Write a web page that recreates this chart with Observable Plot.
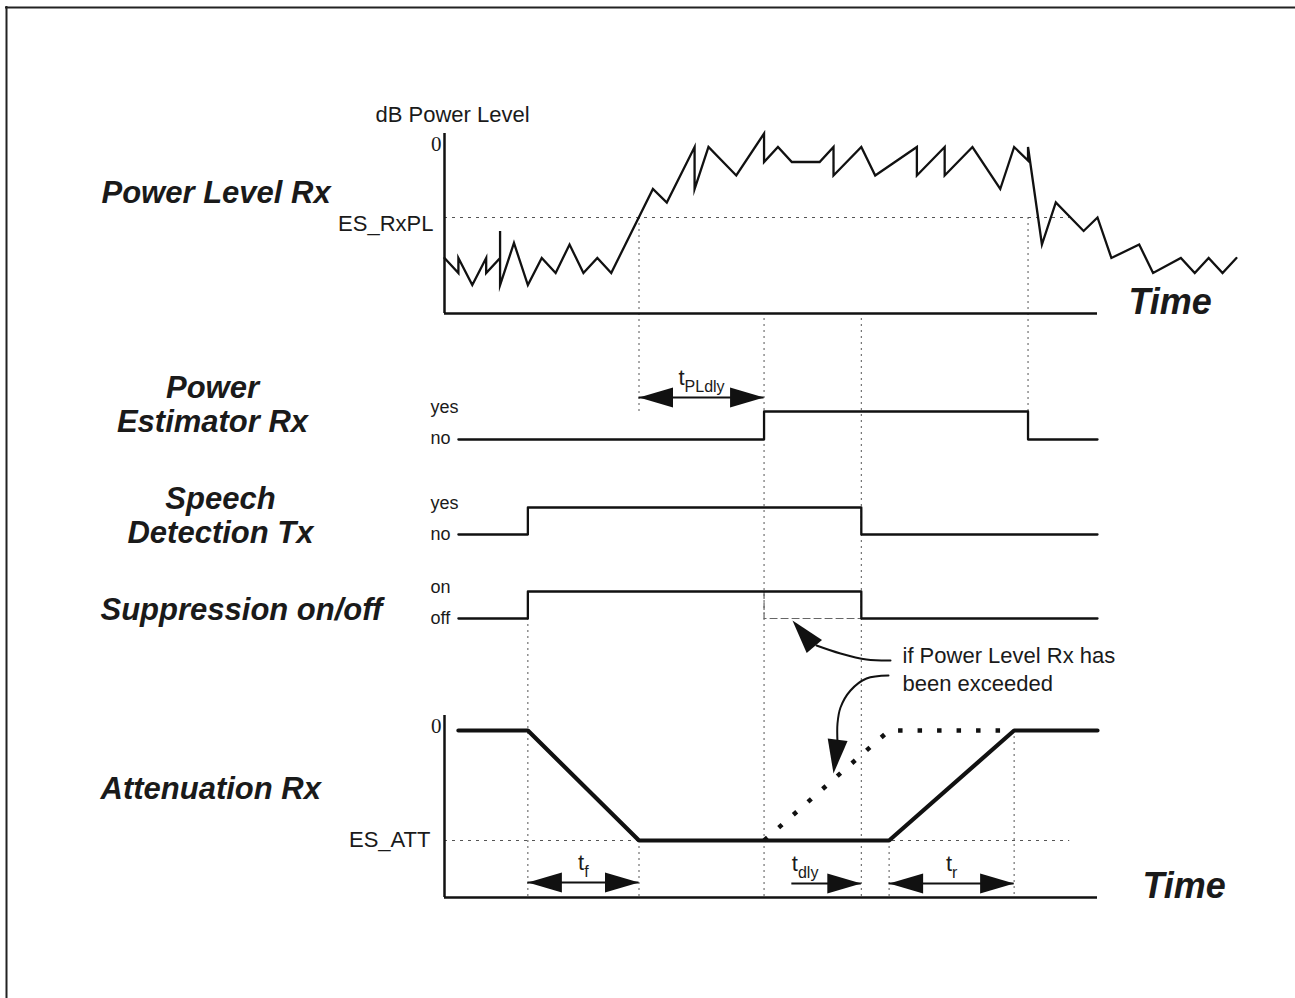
<!DOCTYPE html>
<html><head><meta charset="utf-8">
<script src="https://cdn.jsdelivr.net/npm/d3@7"></script>
<script src="https://cdn.jsdelivr.net/npm/@observablehq/plot@0.6"></script>
<style>
html,body{margin:0;padding:0;background:#fff;}
#chart svg{display:block;}
</style></head><body><div id="chart"></div>
<script>
// ================= DATA =================
// time is measured in sampling ticks; the time axes run from tick 0 to tick 47
const timeAxisEnd = 47;

// Power Level Rx (dB, 0 = top of scale)
const powerTime = [0,1,1,2,3,3,4,4,4,5,6,7,8,9,10,11,12,15,16,18,18,19,21,23,23,24,25,27,28,28,30,31,34,34,36,36,38,40,41,42,42,43,44,46,47,48,50,51,53,54,55,56,57];
const powerDb   = [-41.5,-46.5,-41.5,-50.5,-41.5,-46.5,-41.5,-32.5,-50.5,-36.5,-50.5,-41.5,-46.5,-37,-46.5,-41.5,-46.5,-18.5,-23,-4.5,-18.5,-4.5,-14,0,-9.5,-4.5,-9.5,-9.5,-4.5,-14,-4.5,-14,-4.5,-14,-4.5,-14,-4.5,-18.5,-4.5,-9,-4.5,-37,-23,-32.5,-28,-41.5,-37,-46.5,-41.5,-46.5,-41.5,-46.5,-41.5];
const powerFloorDb = -60;
const esRxPL = -28;          // ES_RxPL threshold (dB)

// binary signals (0 = no/off, 1 = yes/on)
const estimatorTime  = [1,23,23,42,42,47];
const estimatorState = [0,0,1,1,0,0];
const speechTime  = [1,6,6,30,30,47];
const speechState = [0,0,1,1,0,0];
const suppressionTime  = [1,6,6,30,30,47];
const suppressionState = [0,0,1,1,0,0];
const suppressionAltTime  = [23,23,30];   // dashed: if Power Level Rx exceeded
const suppressionAltState = [1,0,0];

// Attenuation Rx (0 = no attenuation, 1 = ES_ATT)
const attenuationTime  = [1,6,14,32,41,47];
const attenuationLevel = [0,0,1,1,0,0];
const attenuationAltTime  = [23,32,41];   // dotted: if Power Level Rx exceeded
const attenuationAltLevel = [1,0,0];
const esAtt = 1;

// timing intervals
const intervalName  = ["PLdly","f","dly","r"];
const intervalStart = [14,6,25,32];
const intervalEnd   = [23,14,30,41];
const intervalHeads = ["both","both","end","both"];

// state tick labels
const estimatorTicks   = ["no","yes"];
const speechTicks      = ["no","yes"];
const suppressionTicks = ["off","on"];

// ================= LAYOUT =================
const W = 1295, H = 998;
const AX0 = 444, AX1 = 1097;                 // pixel span of the time axes
const U = (AX1 - AX0) / timeAxisEnd;         // pixels per tick
const px = p => (p - AX0) / U;               // layout pixel -> tick (annotations only)
const pY = db => 133 - 3 * db;               // power panel
const sig = {estimator:[439,411], speech:[534,507], suppression:[618,591]};
const aY = a => 730 + 110 * a;               // attenuation panel
const attAxisTop = 715, attAxisBottom = 897;
const FONT = "Liberation Sans, Arial, Helvetica, sans-serif";
const guideColor = "#555";

const rows = (ts, vs, f) => ts.map((t, i) => ({t, y: f(vs[i])}));

const powerRows = rows(powerTime, powerDb, pY);
const estRows = rows(estimatorTime, estimatorState, s => sig.estimator[s]);
const spRows = rows(speechTime, speechState, s => sig.speech[s]);
const supRows = rows(suppressionTime, suppressionState, s => sig.suppression[s]);
const supAltRows = rows(suppressionAltTime, suppressionAltState, s => sig.suppression[s]);
const attRows = rows(attenuationTime, attenuationLevel, aY);
const attAltRows = rows(attenuationAltTime, attenuationAltLevel, aY);

// vertical guide lines at the events
const guides = [
  {t: speechTime[1], y1: sig.suppression[0], y2: attAxisBottom},
  {t: intervalStart[0], y1: pY(esRxPL), y2: sig.estimator[1]},
  {t: attenuationTime[2], y1: aY(esAtt), y2: attAxisBottom},
  {t: estimatorTime[1], y1: pY(powerFloorDb) + 5, y2: attAxisBottom},
  {t: speechTime[3], y1: pY(powerFloorDb) + 5, y2: attAxisBottom},
  {t: attenuationTime[3], y1: aY(esAtt), y2: attAxisBottom},
  {t: attenuationTime[4], y1: aY(0), y2: attAxisBottom},
  {t: estimatorTime[3], y1: pY(esRxPL), y2: sig.estimator[0]}
];

// timing arrows
const intervalY = [397, 882, 883, 883];
const shafts = intervalName.map((n, i) => ({x1: intervalStart[i], x2: intervalEnd[i], y: intervalY[i]}));
const heads = [];
intervalName.forEach((n, i) => {
  if (intervalHeads[i] === "both") heads.push({t: intervalStart[i], y: intervalY[i], r: 180});
  heads.push({t: intervalEnd[i], y: intervalY[i], r: 0});
});
const subW = {PLdly: 40, f: 4.5, dly: 20.5, r: 5.3};
const tW = 6.1;
const tLabels = intervalName.map((n, i) => {
  const mid = (intervalStart[i] + intervalEnd[i]) / 2;
  const offPx = intervalHeads[i] === "end" ? tW : (tW - subW[n]) / 2;
  const base = intervalHeads[i] === "end" ? intervalStart[i] : mid;
  return {t: base + offPx / U, y: intervalY[i], sub: n};
});

// curved annotation arrows
const curve1 = [[890,660],[866,659],[840,653],[816,645]].map(([x,y]) => ({t: px(x), y}));
const curve2 = [[888,675],[866,678],[850,690],[840,707],[837,723],[837,742]].map(([x,y]) => ({t: px(x), y}));
heads.push({t: px(792), y: 620, r: 230});
heads.push({t: px(833), y: 773, r: 97});

const arrowHead = {draw(ctx) { ctx.moveTo(0, 0); ctx.lineTo(-34, -10); ctx.lineTo(-34, 10); ctx.closePath(); }};

const bold = {fontFamily: FONT, fontWeight: "bold", fontStyle: "italic", fill: "#1a1a1a"};
const txt = (d, o) => Plot.text([d], {x: "x", y: "y", text: "s", fontFamily: FONT, fill: "#1a1a1a", lineAnchor: "bottom", ...o});

const chart = Plot.plot({
  width: W, height: H,
  marginTop: 0, marginRight: 0, marginBottom: 0, marginLeft: 0,
  x: {domain: [px(0), px(W)], range: [0, W], axis: null},
  y: {domain: [0, H], range: [0, H], axis: null},
  style: {fontFamily: FONT, background: "#fff", overflow: "visible"},
  marks: [
    // frame
    Plot.ruleY([7], {x1: px(5), x2: px(W), stroke: "#222", strokeWidth: 2}),
    Plot.ruleX([px(6)], {y1: 6, y2: H, stroke: "#222", strokeWidth: 2}),

    // threshold lines
    Plot.ruleY([pY(esRxPL)], {x1: 0, x2: 45, stroke: guideColor, strokeWidth: 1, strokeDasharray: "3,5"}),
    Plot.ruleY([aY(esAtt)], {x1: 0, x2: 45, stroke: guideColor, strokeWidth: 1, strokeDasharray: "3,5"}),
    // event guides
    Plot.ruleX(guides, {x: "t", y1: "y1", y2: "y2", stroke: guideColor, strokeWidth: 1, strokeDasharray: "2,4"}),

    // axes
    Plot.ruleX([0], {y1: pY(0), y2: pY(powerFloorDb), stroke: "#111", strokeWidth: 2.5}),
    Plot.ruleY([pY(powerFloorDb)], {x1: 0, x2: timeAxisEnd, stroke: "#111", strokeWidth: 2.5}),
    Plot.ruleX([0], {y1: attAxisTop, y2: attAxisBottom, stroke: "#111", strokeWidth: 2.5}),
    Plot.ruleY([attAxisBottom], {x1: 0, x2: timeAxisEnd, stroke: "#111", strokeWidth: 2.5}),

    // signals
    Plot.line(powerRows, {x: "t", y: "y", stroke: "#111", strokeWidth: 2.3, strokeLinejoin: "miter", strokeMiterlimit: 10}),
    Plot.line(estRows, {x: "t", y: "y", stroke: "#111", strokeWidth: 2.3}),
    Plot.line(spRows, {x: "t", y: "y", stroke: "#111", strokeWidth: 2.3}),
    Plot.line(supAltRows, {x: "t", y: "y", stroke: "#666", strokeWidth: 1.2, strokeDasharray: "7,4"}),
    Plot.line(supRows, {x: "t", y: "y", stroke: "#111", strokeWidth: 2.3}),
    Plot.line(attAltRows, {x: "t", y: "y", stroke: "#111", strokeWidth: 4.5, strokeDasharray: "4.5,15", strokeLinecap: "butt"}),
    Plot.line(attRows, {x: "t", y: "y", stroke: "#111", strokeWidth: 4.2, strokeLinecap: "round", strokeLinejoin: "miter"}),

    // timing arrows
    Plot.ruleY(shafts, {x1: "x1", x2: "x2", y: "y", stroke: "#111", strokeWidth: 2}),
    Plot.line(curve1, {x: "t", y: "y", curve: "catmull-rom", stroke: "#111", strokeWidth: 2}),
    Plot.line(curve2, {x: "t", y: "y", curve: "catmull-rom", stroke: "#111", strokeWidth: 2}),
    Plot.dot(heads, {x: "t", y: "y", rotate: "r", symbol: arrowHead, fill: "#111", stroke: "none"}),
    Plot.text(tLabels, {x: "t", y: d => d.y - 13, text: () => "t", textAnchor: "end", lineAnchor: "bottom", fontSize: 22, fontFamily: FONT, fill: "#1a1a1a"}),
    Plot.text(tLabels, {x: "t", y: d => d.y - 6, text: "sub", textAnchor: "start", lineAnchor: "bottom", fontSize: 16, fontFamily: FONT, fill: "#1a1a1a"}),

    // big labels
    txt({x: px(101), y: 202, s: "Power Level Rx"}, {...bold, fontSize: 31, textAnchor: "start"}),
    txt({x: px(212), y: 431, s: "Power\nEstimator Rx"}, {...bold, fontSize: 31, textAnchor: "middle", lineHeight: 1.07}),
    txt({x: px(220), y: 542, s: "Speech\nDetection Tx"}, {...bold, fontSize: 31, textAnchor: "middle", lineHeight: 1.09}),
    txt({x: px(100), y: 619, s: "Suppression on/off"}, {...bold, fontSize: 31, textAnchor: "start"}),
    txt({x: px(100), y: 798, s: "Attenuation Rx"}, {...bold, fontSize: 31, textAnchor: "start"}),
    txt({x: px(1128), y: 313, s: "Time"}, {...bold, fontSize: 36, textAnchor: "start"}),
    txt({x: px(1142), y: 897, s: "Time"}, {...bold, fontSize: 36, textAnchor: "start"}),

    // small labels
    txt({x: px(375), y: 121, s: "dB Power Level"}, {fontSize: 22, textAnchor: "start"}),
    txt({x: px(441), y: 150, s: "0"}, {fontSize: 21, textAnchor: "end", fontFamily: "Liberation Serif, Times New Roman, serif"}),
    txt({x: px(441), y: 732, s: "0"}, {fontSize: 21, textAnchor: "end", fontFamily: "Liberation Serif, Times New Roman, serif"}),
    txt({x: px(433), y: pY(esRxPL) + 13, s: "ES_RxPL"}, {fontSize: 22, textAnchor: "end"}),
    txt({x: px(430), y: aY(esAtt) + 6, s: "ES_ATT"}, {fontSize: 22, textAnchor: "end"}),
    Plot.text([
      {s: estimatorTicks[1], y: sig.estimator[1] + 1}, {s: estimatorTicks[0], y: sig.estimator[0] + 4},
      {s: speechTicks[1], y: sig.speech[1] + 1}, {s: speechTicks[0], y: sig.speech[0] + 5},
      {s: suppressionTicks[1], y: sig.suppression[1] + 1}, {s: suppressionTicks[0], y: sig.suppression[0] + 5}
    ], {x: px(430), y: "y", text: "s", fontSize: 18, textAnchor: "start", lineAnchor: "bottom", fontFamily: FONT, fill: "#1a1a1a"}),
    txt({x: px(902), y: 690, s: "if Power Level Rx has\nbeen exceeded"}, {fontSize: 22, textAnchor: "start", lineHeight: 1.23})
  ]
});
document.getElementById("chart").appendChild(chart);
</script>
</body></html>
